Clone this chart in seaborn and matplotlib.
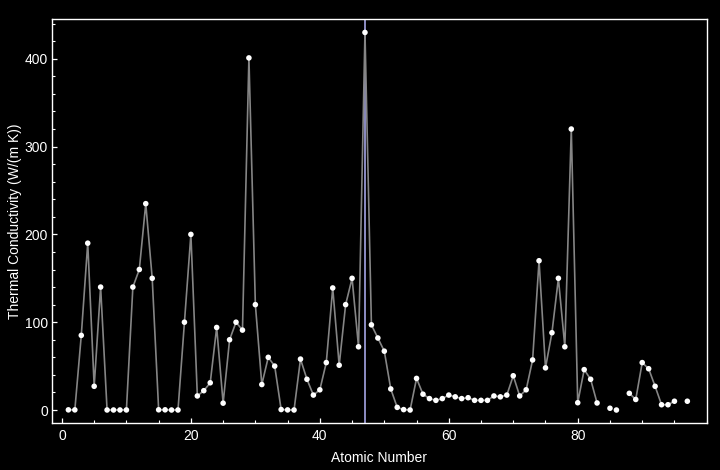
import numpy as np
import pandas as pd
import matplotlib
matplotlib.use("Agg")
import matplotlib.pyplot as plt
from matplotlib.ticker import MultipleLocator
import seaborn as sns

# Atomic numbers with available data (84, 87, 96 missing)
atomic_number = [
    1, 2, 3, 4, 5, 6, 7, 8, 9, 10,
    11, 12, 13, 14, 15, 16, 17, 18, 19, 20,
    21, 22, 23, 24, 25, 26, 27, 28, 29, 30,
    31, 32, 33, 34, 35, 36, 37, 38, 39, 40,
    41, 42, 43, 44, 45, 46, 47, 48, 49, 50,
    51, 52, 53, 54, 55, 56, 57, 58, 59, 60,
    61, 62, 63, 64, 65, 66, 67, 68, 69, 70,
    71, 72, 73, 74, 75, 76, 77, 78, 79, 80,
    81, 82, 83, 85, 86, 88, 89, 90,
    91, 92, 93, 94, 95, 97,
]
thermal_conductivity = [
    0.18, 0.15, 85, 190, 27, 140, 0.026, 0.027, 0.028, 0.049,
    140, 160, 235, 150, 0.24, 0.21, 0.009, 0.018, 100, 200,
    16, 22, 31, 94, 7.8, 80, 100, 91, 401, 120,
    29, 60, 50, 0.52, 0.12, 0.009, 58, 35, 17, 23,
    54, 139, 51, 120, 150, 72, 430, 97, 82, 67,
    24, 3, 0.45, 0.006, 36, 18, 13, 11, 13, 17,
    15, 13, 14, 11, 11, 11, 16, 15, 17, 39,
    16, 23, 57, 170, 48, 88, 150, 72, 320, 8.3,
    46, 35, 8, 2, 0.004, 19, 12, 54,
    47, 27, 6, 6, 10, 10,
]
highlight_element = 47  # silver
unjoined_after = [85]   # line not drawn between these neighbours in the original

x_ticks = [0, 20, 40, 60, 80]
y_ticks = [0, 100, 200, 300, 400]

df = pd.DataFrame({"Z": atomic_number, "k": thermal_conductivity})
# contiguous runs -> separate line segments (gaps at missing elements)
brk = (df["Z"].diff().fillna(1) != 1) | df["Z"].shift(1).isin(unjoined_after)
df["seg"] = brk.cumsum()

sns.set_theme(style="dark")
plt.rcParams["font.family"] = ["Liberation Sans", "DejaVu Sans"]

fig = plt.figure(figsize=(7.2, 4.7), dpi=100, facecolor="black")
ax = fig.add_axes([0.0726, 0.100, 0.9089, 0.859])
ax.set_facecolor("black")

sns.lineplot(data=df, x="Z", y="k", units="seg", estimator=None,
             color="#858585", linewidth=1.2, ax=ax, legend=False)
ax.axvline(highlight_element, color="#b4b4f8", linewidth=1.1, zorder=1.5)
sns.scatterplot(data=df, x="Z", y="k", color="white", s=16,
                edgecolor="none", ax=ax, zorder=3, legend=False)

ax.set_xlim(-1.5, 100)
ax.set_ylim(-14.8, 445)
ax.set_xticks(x_ticks)
ax.set_yticks(y_ticks)
ax.xaxis.set_minor_locator(MultipleLocator(5))
ax.yaxis.set_minor_locator(MultipleLocator(20))
ax.grid(False)

for s in ax.spines.values():
    s.set_color("white")
    s.set_linewidth(1.0)
    s.set_visible(True)

ax.tick_params(axis="both", which="both", direction="in", colors="white",
               labelcolor="white", labelsize=10, top=False, right=False)
ax.tick_params(axis="both", which="major", length=3.5, width=0.9)
ax.tick_params(axis="both", which="minor", length=2.5, width=0.8)
ax.tick_params(axis="x", which="both", bottom=True, pad=4)
ax.tick_params(axis="y", which="both", left=True, pad=3)

ax.set_xlabel("Atomic Number", color="white", fontsize=10, labelpad=6)
ax.set_ylabel("Thermal Conductivity (W/(m K))", color="white", fontsize=10,
              labelpad=2)

fig.savefig("out.png", dpi=100, facecolor="black")
